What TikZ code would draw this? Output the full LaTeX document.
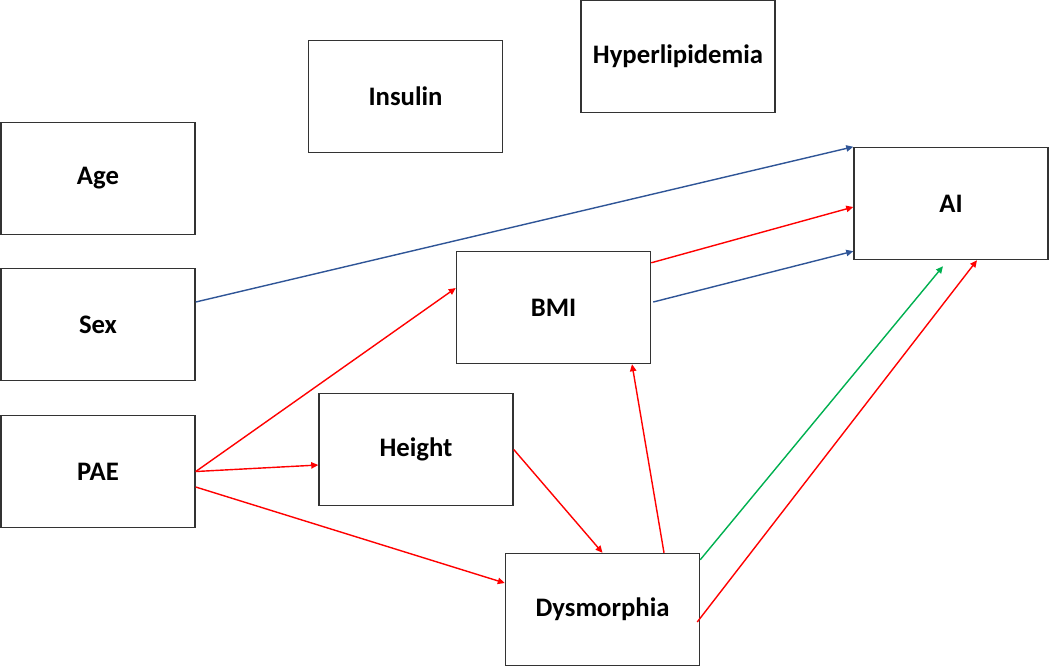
\documentclass[tikz,border=0pt]{standalone}
\usepackage{fontspec}
\setmainfont{Carlito}
\usepackage{tikz}
\usetikzlibrary{arrows.meta,calc}

\definecolor{arrowblue}{RGB}{47,85,151}
\definecolor{arrowred}{RGB}{255,0,0}
\definecolor{arrowgreen}{RGB}{0,176,80}

\begin{document}
\begin{tikzpicture}[x=0.025cm,y=-0.025cm,
      varbox/.style={draw=black!80,line width=1pt,minimum width=4.85cm,
         minimum height=2.8cm,font=\fontsize{19}{22}\selectfont\bfseries},
      link/.style={line width=1pt,-{Triangle[length=5pt,width=4.5pt]}}]
   \useasboundingbox (0,0) rectangle (1050,667);
   % variables
   \node[varbox] (age) at (98,178.5) {Age};
   \node[varbox] (sex) at (98,324.5) {Sex};
   \node[varbox] (pae) at (98,471.5) {PAE};
   \node[varbox] (insulin) at (405.5,96.5) {Insulin};
   \node[varbox] (hyper) at (678,56.5) {Hyperlipidemia};
   \node[varbox] (ai) at (951,203.5) {AI};
   \node[varbox] (bmi) at (553.5,307.5) {BMI};
   \node[varbox] (height) at (416,449.5) {Height};
   \node[varbox] (dysm) at (602.5,609.5) {Dysmorphia};
   % paths
   \draw[link,arrowblue] ($(sex.east)+(0,-22.5)$) -- (ai.north west);
   \draw[link,arrowred] ($(bmi.north east)+(0,12)$) -- ($(ai.west)+(0,3.5)$);
   \draw[link,arrowblue] ($(bmi.east)+(2,-5.5)$) -- ($(ai.south west)+(0,-9)$);
   \draw[link,arrowred] (pae.east) -- ($(bmi.west)+(0,-19.5)$);
   \draw[link,arrowred] (pae.east) -- ($(height.west)+(0,15.5)$);
   \draw[link,arrowred] ($(pae.east)+(0,15.5)$) -- ($(dysm.west)+(0,-26.5)$);
   \draw[link,arrowred] (height.east) -- (dysm.north);
   \draw[link,arrowred] ($(dysm.north)+(61.5,0)$) -- ($(bmi.south)+(78.5,0)$);
   \draw[link,arrowgreen] ($(dysm.north east)+(0,7)$) -- ($(ai.south)+(-8,6)$);
   \draw[link,arrowred] ($(dysm.east)+(-3,12.5)$) -- ($(ai.south)+(26,0)$);
\end{tikzpicture}
\end{document}
